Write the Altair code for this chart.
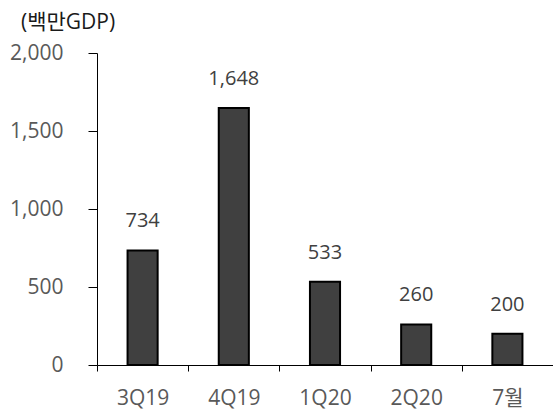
import altair as alt
import pandas as pd

categories = ["3Q19", "4Q19", "1Q20", "2Q20", "7월"]
values = [734, 1648, 533, 260, 200]
labels = ["734", "1,648", "533", "260", "200"]

df = pd.DataFrame({"cat": categories, "val": values, "lab": labels})

FONT = "Open Sans, Noto Sans CJK KR"

x = alt.X("cat:N", sort=categories, title=None,
          scale=alt.Scale(paddingInner=0, paddingOuter=0),
          axis=alt.Axis(labelAngle=0, labelFontSize=21, labelColor="#595959", labelFont=FONT,
                        labelPadding=16, domainColor="black", tickColor="black", tickSize=6,
                        tickBand="extent", domainWidth=1))

bars = alt.Chart(df).mark_bar(
    width=alt.RelativeBandSize(0.33), color="#404040", stroke="black", strokeWidth=2
).encode(
    x=x,
    y=alt.Y("val:Q", title=None,
            scale=alt.Scale(domain=[0, 2000], nice=False),
            axis=alt.Axis(values=[0, 500, 1000, 1500, 2000], format=",.0f", labelFontSize=21,
                          labelColor="#595959", labelFont=FONT, grid=False, domainColor="black",
                          tickColor="black", tickSize=9, labelPadding=25)),
)

text = alt.Chart(df).mark_text(
    dy=-29, fontSize=20, color="#404040", font=FONT
).encode(x=alt.X("cat:N", sort=categories), y="val:Q", text="lab:N")

chart = (bars + text).properties(
    width=456, height=312,
    padding={"left": 97, "top": 53, "right": 0, "bottom": 47},
    autosize=alt.AutoSizeParams(type="none"),
    title=alt.TitleParams("(백만GDP)", anchor="start", frame="group", dx=-76, offset=9,
                          fontSize=21, font=FONT, fontWeight="normal", color="#1a1a1a"),
).configure_view(stroke=None)

chart.save("out.html", embed_options={"renderer": "svg", "actions": False})
